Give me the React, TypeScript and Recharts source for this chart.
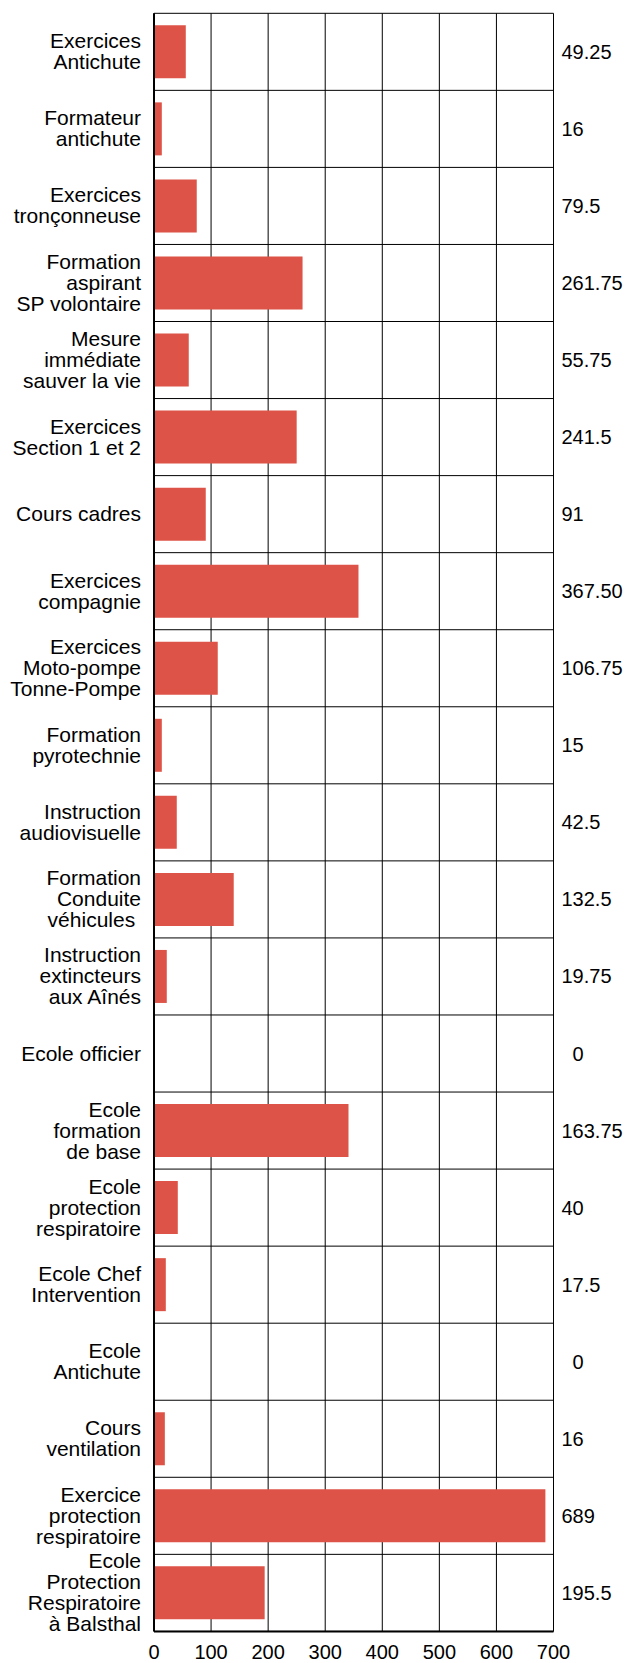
import React from "react";
import { BarChart, Bar, XAxis, YAxis, CartesianGrid } from "recharts";

const categories: string[] = [
  "Exercices\nAntichute",
  "Formateur\nantichute",
  "Exercices\ntronçonneuse",
  "Formation\naspirant\nSP volontaire",
  "Mesure\nimmédiate\nsauver la vie",
  "Exercices\nSection 1 et 2",
  "Cours cadres",
  "Exercices\ncompagnie",
  "Exercices\nMoto-pompe\nTonne-Pompe",
  "Formation\npyrotechnie",
  "Instruction\naudiovisuelle",
  "Formation\nConduite\nvéhicules ",
  "Instruction\nextincteurs\naux Aînés",
  "Ecole officier",
  "Ecole\nformation\nde base",
  "Ecole\nprotection\nrespiratoire",
  "Ecole Chef\nIntervention",
  "Ecole\nAntichute",
  "Cours\nventilation",
  "Exercice\nprotection\nrespiratoire",
  "Ecole\nProtection\nRespiratoire\nà Balsthal",
];

// bar lengths as drawn
const barValues: number[] = [
  55.7, 13.7, 74.9, 260.3, 60.9, 250, 90.7, 358.3, 111.7, 13.7, 39.9, 139.7,
  22.4, 0, 340.8, 41.7, 20.7, 0, 19, 685.8, 193.9,
];

// value labels printed at the right
const valueLabels: string[] = [
  "49.25", "16", "79.5", "261.75", "55.75", "241.5", "91", "367.50", "106.75",
  "15", "42.5", "132.5", "19.75", "\u20070", "163.75", "40", "17.5", "\u20070",
  "16", "689", "195.5",
];

const xTicks: number[] = [0, 100, 200, 300, 400, 500, 600, 700];

const data = categories.map((name, i) => ({ name, value: barValues[i] }));

const FONT = "'Liberation Sans', Arial, Helvetica, sans-serif";
const FS = 20;
const LFS = 21;
const LH = 21;

const LeftTick = (props: any) => {
  const { x, y, payload } = props;
  const lines = String(payload.value).split("\n");
  const start = -((lines.length - 1) / 2) * LH;
  return (
    <text
      x={x}
      y={y + 7}
      textAnchor="end"
      fontSize={LFS}
      fontFamily={FONT}
      fill="#000"
      style={{ whiteSpace: "pre" }}
    >
      {lines.map((l, i) => (
        <tspan key={i} x={x} dy={i === 0 ? start : LH}>
          {l}
        </tspan>
      ))}
    </text>
  );
};

const RightTick = (props: any) => {
  const { x, y, payload } = props;
  const idx = categories.indexOf(payload.value);
  return (
    <text
      x={x}
      y={y + 7}
      textAnchor="start"
      fontSize={FS}
      fontFamily={FONT}
      fill="#000"
    >
      {valueLabels[idx]}
    </text>
  );
};

const rowBoundaries = (args: any) => {
  const s = args?.yAxis?.scale;
  try {
    let fn: ((v: string) => number) | null = null;
    if (typeof s === "function") fn = (v) => s(v);
    else if (s && typeof s.map === "function") fn = (v) => s.map(v);
    const bw =
      s && typeof s.bandwidth === "function" ? s.bandwidth() : undefined;
    if (fn && typeof bw === "number") {
      const pts = categories.map((c) => fn!(c));
      pts.push(fn(categories[categories.length - 1]) + bw);
      if (pts.every((p) => typeof p === "number" && isFinite(p))) return pts;
    }
  } catch (e) {
    // fall through
  }
  const off = args?.offset;
  const n = categories.length;
  const pts: number[] = [];
  for (let i = 0; i <= n; i++) pts.push(off.top + (off.height * i) / n);
  return pts;
};

export default function App() {
  return (
    <div style={{ width: 616, height: 1655 }}>
      <BarChart
        width={616}
        height={1655}
        data={data}
        layout="vertical"
        margin={{ top: 5.3, right: 0, bottom: 0, left: 0 }}
        barCategoryGap="15.6%"
      >
        <CartesianGrid
          stroke="#000"
          strokeWidth={1}
          horizontalCoordinatesGenerator={rowBoundaries}
        />
        <XAxis
          type="number"
          domain={[0, 700]}
          ticks={xTicks}
          interval={0}
          height={31.6}
          tickLine={false}
          tickSize={6}
          tickMargin={7}
          axisLine={{ stroke: "#000", strokeWidth: 2 }}
          tick={{ fontSize: FS, fontFamily: FONT, fill: "#000" }}
        />
        <YAxis
          type="category"
          dataKey="name"
          width={146}
          interval={0}
          tickLine={false}
          tickSize={6}
          tickMargin={7}
          axisLine={{ stroke: "#000", strokeWidth: 2 }}
          tick={<LeftTick />}
        />
        <YAxis
          yAxisId="right"
          orientation="right"
          type="category"
          dataKey="name"
          width={70.5}
          interval={0}
          tickLine={false}
          axisLine={false}
          tickSize={6}
          tickMargin={2}
          tick={<RightTick />}
        />
        <Bar dataKey="value" fill="#DE5347" isAnimationActive={false} />
      </BarChart>
    </div>
  );
}
